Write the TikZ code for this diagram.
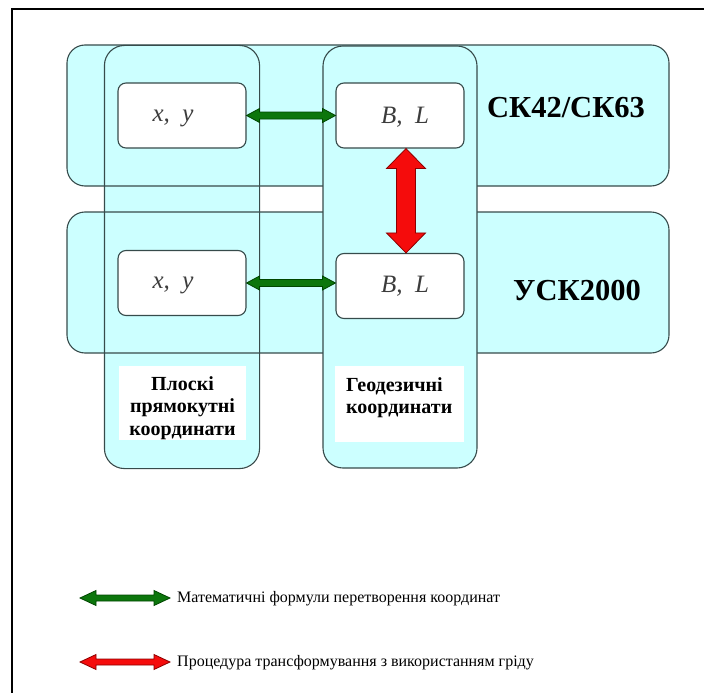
\documentclass[tikz,border=0pt]{standalone}
\usepackage{fontspec}
\setmainfont{Liberation Serif}
\usetikzlibrary{calc}

\definecolor{panel}{RGB}{204,255,255}
\definecolor{edge}{RGB}{55,75,75}
\definecolor{fgreen}{RGB}{12,118,12}
\definecolor{dgreen}{RGB}{0,70,0}
\definecolor{fred}{RGB}{245,12,12}
\definecolor{dred}{RGB}{140,0,0}
\definecolor{vartext}{RGB}{60,60,60}

% double-headed block arrow: style, from, to, half shaft, half head, head length
\newcommand{\dblockarrow}[6]{%
  \draw[#1] (#2)
    -- ($(#2)!#6!(#3)!#5!90:(#3)$) -- ($(#2)!#6!(#3)!#4!90:(#3)$)
    -- ($(#3)!#6!(#2)!#4!-90:(#2)$) -- ($(#3)!#6!(#2)!#5!-90:(#2)$)
    -- (#3)
    -- ($(#3)!#6!(#2)!#5!90:(#2)$) -- ($(#3)!#6!(#2)!#4!90:(#2)$)
    -- ($(#2)!#6!(#3)!#4!-90:(#3)$) -- ($(#2)!#6!(#3)!#5!-90:(#3)$)
    -- cycle;}

\begin{document}
\begin{tikzpicture}[x=1pt,y=-1pt,
  band/.style={rectangle, rounded corners=18pt, fill=panel, draw=edge, line width=1.1pt,
    minimum width=602pt, minimum height=141pt, inner sep=0pt},
  column/.style={rectangle, rounded corners=20pt, fill=panel, draw=edge, line width=1.1pt,
    minimum width=154pt, minimum height=422pt, inner sep=0pt},
  valbox/.style={rectangle, rounded corners=8pt, fill=white, draw=edge, line width=1.1pt,
    minimum width=128pt, minimum height=65pt, inner sep=0pt},
  valtext/.style={font=\fontsize{25}{28}\selectfont\itshape, text=vartext, inner sep=0pt},
  capbox/.style={rectangle, fill=white, inner sep=0pt},
  captext/.style={font=\fontsize{20}{22.5}\selectfont\bfseries, inner sep=0pt},
  systext/.style={font=\fontsize{30.5}{34}\selectfont\bfseries, inner sep=0pt},
  legtext/.style={font=\fontsize{16}{18}\selectfont, anchor=west, inner sep=0pt},
  greenarrow/.style={fill=fgreen, draw=dgreen, line width=0.8pt, line join=miter},
  redarrow/.style={fill=fred, draw=dred, line width=0.8pt, line join=miter}]

\useasboundingbox (0,0) rectangle (704,693);

% page frame (only top and left edges fall inside the page)
\draw[line width=1.3pt] (12,710) -- (12,9) -- (720,9);

% left column sits under the system bands; its outline is drawn on top
\node[column, draw=none] (col1) at (182,257) {};
\node[band] (sys1) at (368,115.5) {};
\node[band] (sys2) at (368,282.5) {};
\draw[edge, line width=1.1pt, rounded corners=20pt] (col1.north west) rectangle (col1.south east);
\node[column] (col2) at (400,257) {};

% coordinate boxes
\node[valbox] (xy1) at (182,115.5) {};
\node[valbox] (bl1) at (400,115.5) {};
\node[valbox] (xy2) at (182,283) {};
\node[valbox] (bl2) at (400,286) {};
\node[valtext] (xy1t) at ($(xy1)+(-9,3)$) {x,\ \ y};
\node[valtext] (bl1t) at ($(bl1)+(5,1.5)$) {B,\ \ L};
\node[valtext] (xy2t) at ($(xy2)+(-9,2.5)$) {x,\ \ y};
\node[valtext] (bl2t) at ($(bl2)+(5,0)$) {B,\ \ L};

% system names
\node[systext] (n1) at (566,108) {СК42/СК63};
\node[systext] (n2) at (577,291) {УСК2000};

% column captions
\node[capbox, minimum width=127pt, minimum height=74pt] (cap1) at (182.5,403) {};
\node[captext, align=center] (cap1t) at (182.5,408) {Плоскі\\прямокутні\\координати};
\node[capbox, minimum width=129pt, minimum height=76pt] (cap2) at (399.5,404) {};
\node[captext, align=left, anchor=north west] (cap2t) at (346,377) {Геодезичні\\координати};

% conversions
\coordinate (g2b) at (xy2.east -| bl2.west);
\dblockarrow{greenarrow}{xy1.east}{bl1.west}{3.5pt}{7pt}{13pt}
\dblockarrow{greenarrow}{xy2.east}{g2b}{3.5pt}{7pt}{13pt}
\coordinate (rtop) at ([xshift=6pt]bl1.south);
\coordinate (rbot) at ([xshift=6pt]bl2.north);
\dblockarrow{redarrow}{rtop}{rbot}{9.5pt}{19.5pt}{20pt}

% legend
\coordinate (lg1a) at (80,598);
\coordinate (lg1b) at (170,598);
\coordinate (lg2a) at (80,662);
\coordinate (lg2b) at (170,662);
\dblockarrow{greenarrow}{lg1a}{lg1b}{3pt}{7.5pt}{16pt}
\dblockarrow{redarrow}{lg2a}{lg2b}{3pt}{7.5pt}{16pt}
\node[legtext] (lt1) at (177,599) {Математичні формули перетворення координат};
\node[legtext] (lt2) at (177,663) {Процедура трансформування з використанням гріду};

\end{tikzpicture}
\end{document}
